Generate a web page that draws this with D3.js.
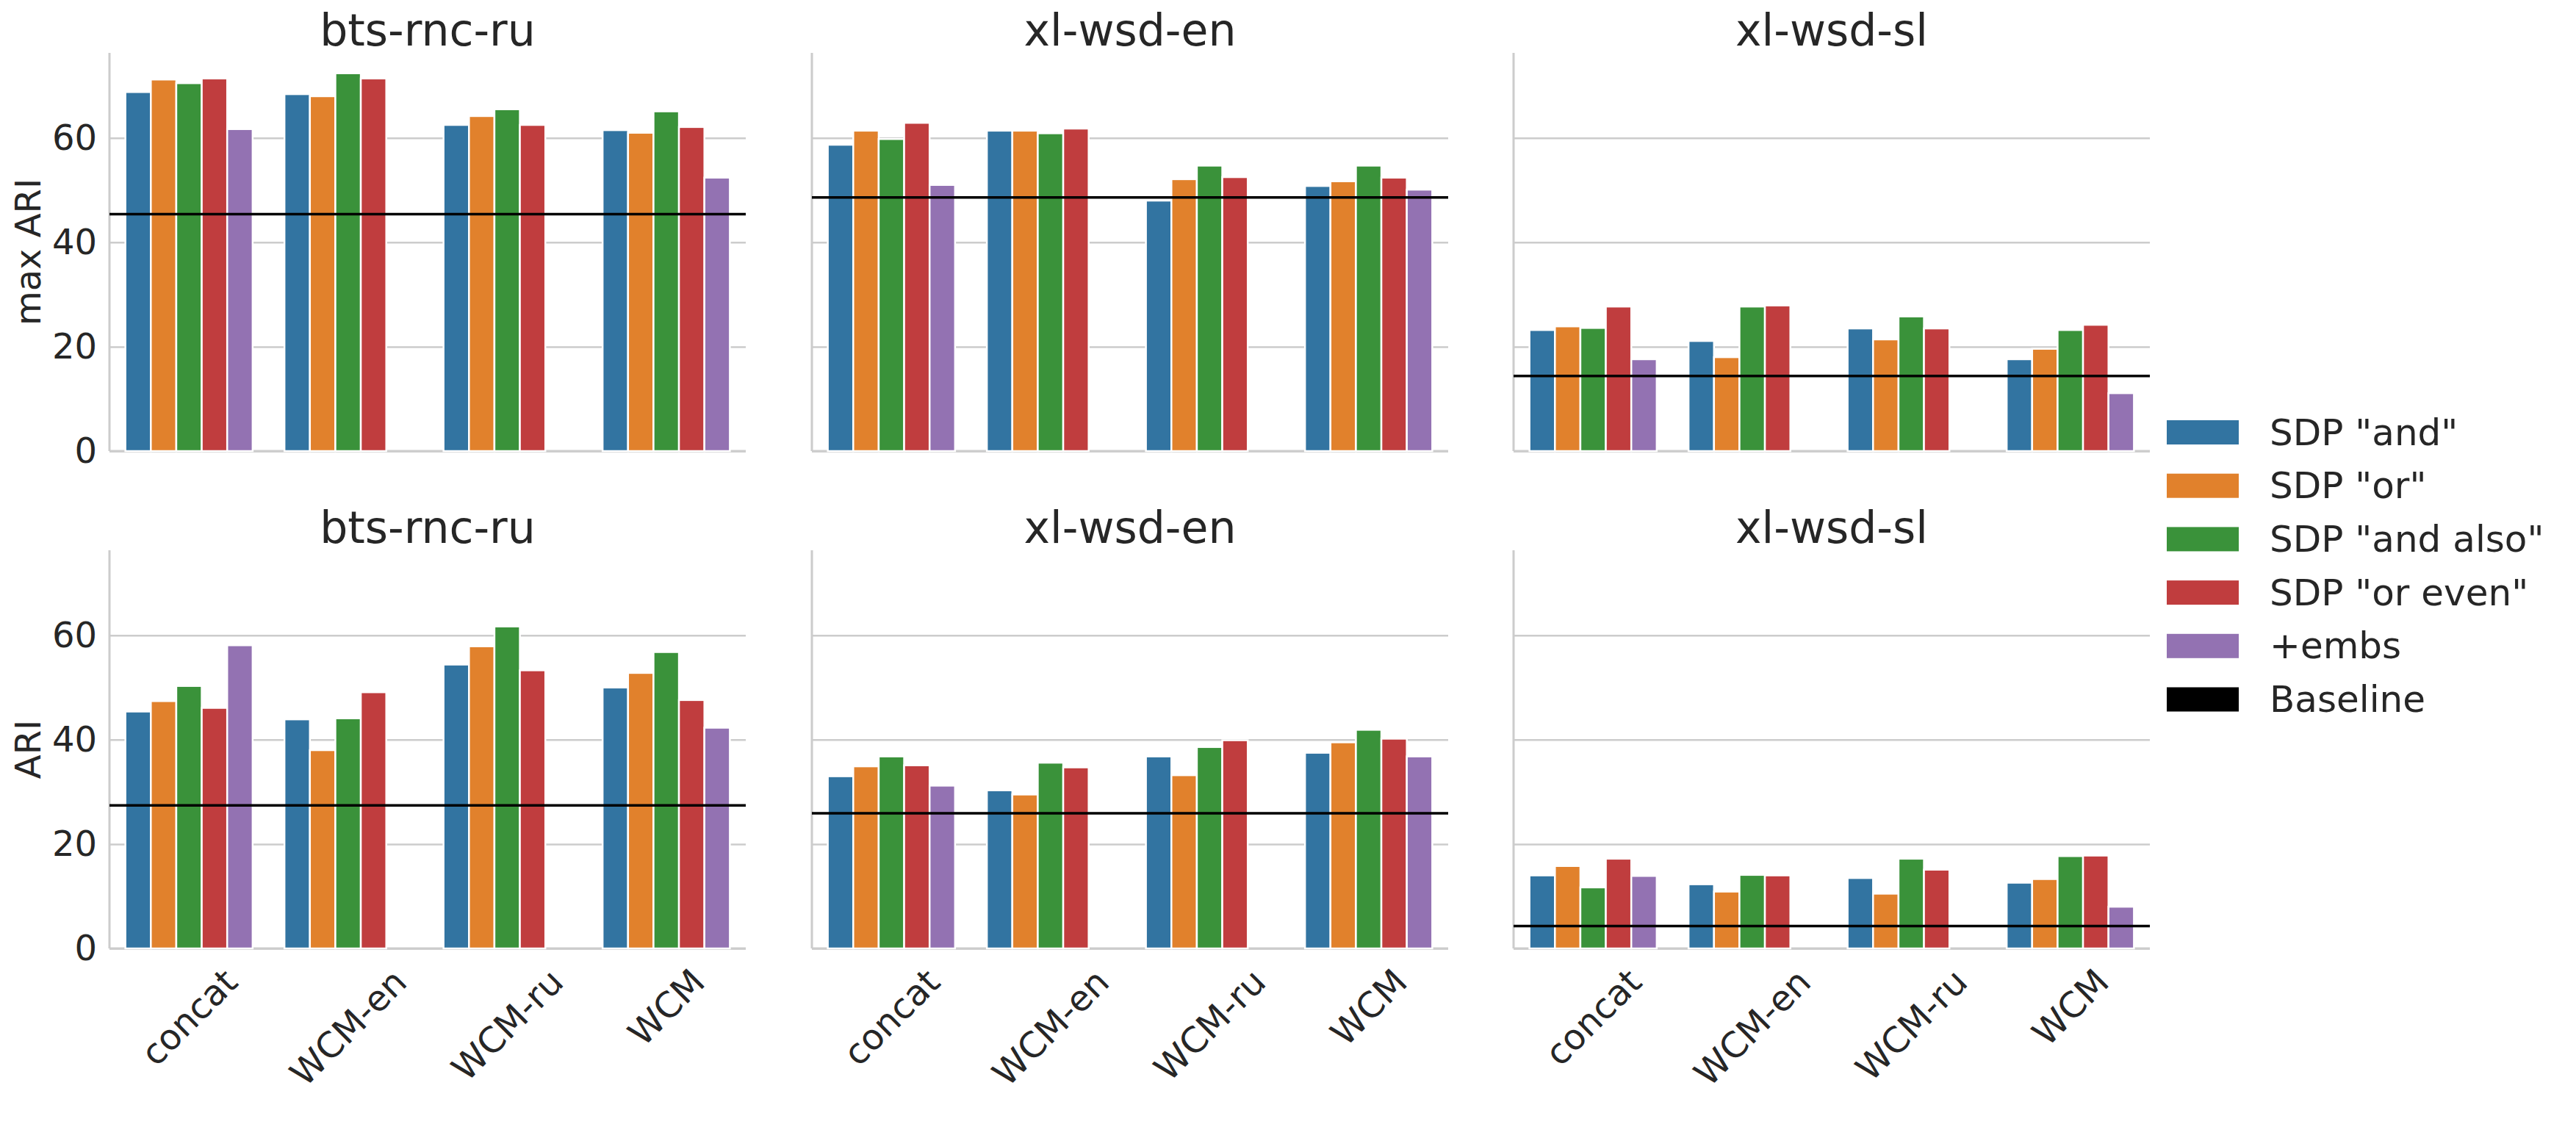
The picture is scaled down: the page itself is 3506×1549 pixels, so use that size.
<!DOCTYPE html>
<html>
<head>
<meta charset="utf-8">
<script src="https://cdn.jsdelivr.net/npm/d3@7"></script>
<style>
  body { margin: 0; background: #fff; }
  text { font-family: "DejaVu Sans", sans-serif; fill: #262626; }
</style>
</head>
<body>
<svg id="chart" width="3506" height="1549"></svg>
<script>
// data
const datasets = ["bts-rnc-ru", "xl-wsd-en", "xl-wsd-sl"]
const categories = ["concat", "WCM-en", "WCM-ru", "WCM"]
const series = ['SDP "and"', 'SDP "or"', 'SDP "and also"', 'SDP "or even"', '+embs']
const colors = ["#3274a1", "#e1812c", "#3a923a", "#c03d3e", "#9372b2"]
const yTicks = [0, 20, 40, 60]
const rowLabels = ["max ARI", "ARI"]

// values[category][series], null = not there
const maxAriBts = [[68.8, 71.2, 70.5, 71.4, 61.7], [68.4, 68.0, 72.4, 71.4, null], [62.5, 64.2, 65.5, 62.5, null], [61.5, 61.0, 65.1, 62.1, 52.4]]
const maxAriEn  = [[58.7, 61.4, 59.8, 62.9, 51.0], [61.4, 61.4, 60.9, 61.8, null], [48.0, 52.1, 54.7, 52.5, null], [50.8, 51.7, 54.7, 52.4, 50.1]]
const maxAriSl  = [[23.2, 23.9, 23.6, 27.7, 17.6], [21.1, 18.0, 27.7, 27.9, null], [23.5, 21.4, 25.8, 23.5, null], [17.6, 19.6, 23.2, 24.2, 11.1]]
const ariBts    = [[45.4, 47.4, 50.3, 46.1, 58.1], [43.9, 38.0, 44.1, 49.1, null], [54.4, 57.9, 61.7, 53.3, null], [50.0, 52.8, 56.8, 47.6, 42.3]]
const ariEn     = [[33.0, 34.9, 36.8, 35.1, 31.2], [30.3, 29.5, 35.6, 34.7, null], [36.8, 33.2, 38.6, 39.9, null], [37.5, 39.5, 41.9, 40.2, 36.8]]
const ariSl     = [[14.0, 15.8, 11.7, 17.2, 13.9], [12.3, 10.9, 14.1, 14.0, null], [13.5, 10.5, 17.2, 15.1, null], [12.6, 13.3, 17.7, 17.8, 8.0]]
const maxAriBaseline = [45.4, 48.6, 14.4]
const ariBaseline = [27.4, 25.9, 4.3]

const rows = [
  { label: rowLabels[0], values: [maxAriBts, maxAriEn, maxAriSl], baseline: maxAriBaseline },
  { label: rowLabels[1], values: [ariBts, ariEn, ariSl], baseline: ariBaseline }
]

const svg = d3.select("#chart")

// panel geometry
const colX = [149, 1105, 2060]
const panelW = 866
const rowTop = [72, 749]
const panelH = 542
const baseFont = 48
const legendFont = 50
const titleFont = 60

const yScale = d3.scaleLinear().domain([0, 76.3]).range([panelH, 0])
const xScale = d3.scaleBand().domain(categories).range([0, panelW]).padding(0)
const hueScale = d3.scaleBand().domain(series)
  .range([xScale.bandwidth() * 0.1, xScale.bandwidth() * 0.9]).padding(0)

rows.forEach((row, r) => {
  datasets.forEach((name, c) => {
    const g = svg.append("g").attr("transform", `translate(${colX[c]},${rowTop[r]})`)

    // grid
    const grid = g.append("g").call(d3.axisLeft(yScale).tickValues(yTicks).tickSize(-panelW).tickFormat(""))
    grid.select(".domain").remove()
    grid.selectAll(".tick line").attr("stroke", "#cccccc").attr("stroke-width", 2.5)

    // spines
    g.append("line").attr("x1", 0).attr("x2", 0).attr("y1", 0).attr("y2", panelH)
      .attr("stroke", "#cccccc").attr("stroke-width", 3)
    g.append("line").attr("x1", 0).attr("x2", panelW).attr("y1", panelH).attr("y2", panelH)
      .attr("stroke", "#cccccc").attr("stroke-width", 3)

    // bars
    const flat = []
    row.values[c].forEach((vals, i) => vals.forEach((v, j) => {
      if (v !== null) flat.push({ cat: categories[i], s: series[j], j: j, v: v })
    }))
    g.selectAll("rect.bar").data(flat).enter().append("rect")
      .attr("class", "bar")
      .attr("x", d => xScale(d.cat) + hueScale(d.s))
      .attr("width", hueScale.bandwidth())
      .attr("y", d => yScale(d.v))
      .attr("height", d => yScale(0) - yScale(d.v))
      .attr("fill", d => colors[d.j])
      .attr("stroke", "#ffffff")
      .attr("stroke-width", 2.5)

    // baseline
    g.append("line")
      .attr("x1", 0).attr("x2", panelW)
      .attr("y1", yScale(row.baseline[c])).attr("y2", yScale(row.baseline[c]))
      .attr("stroke", "#000").attr("stroke-width", 3.5)

    // title
    g.append("text")
      .attr("x", panelW / 2).attr("y", -10)
      .attr("text-anchor", "middle")
      .attr("font-size", titleFont)
      .text(name)

    // y ticks only on first column
    if (c === 0) {
      const yAxisG = g.append("g").call(d3.axisLeft(yScale).tickValues(yTicks).tickSize(0).tickPadding(17))
      yAxisG.select(".domain").remove()
      yAxisG.selectAll("text").attr("font-size", baseFont).attr("fill", "#262626")
        .style("font-family", "DejaVu Sans")

      g.append("text")
        .attr("transform", `translate(${55 - colX[c]},${panelH / 2}) rotate(-90)`)
        .attr("text-anchor", "middle")
        .attr("font-size", baseFont)
        .text(row.label)
    }

    // x labels only on bottom row, rotated 45
    if (r === 1) {
      categories.forEach(cat => {
        const cx = xScale(cat) + xScale.bandwidth() / 2
        const t = g.append("text")
          .attr("text-anchor", "middle")
          .attr("dominant-baseline", "central")
          .attr("font-size", baseFont)
          .text(cat)
        const L = t.node().getComputedTextLength()
        const half = (L + baseFont * 0.75) / (2 * Math.SQRT2)
        t.attr("transform", `translate(${cx},${panelH + 24 + half}) rotate(-45)`)
      })
    }
  })
})

// legend
const legend = svg.append("g").attr("transform", "translate(2949,572)")
const legendItems = series.map((s, i) => ({ name: s, color: colors[i] }))
legendItems.push({ name: "Baseline", color: "#000000" })
legendItems.forEach((d, i) => {
  legend.append("rect").attr("x", 0).attr("y", i * 72.7).attr("width", 98).attr("height", 33).attr("fill", d.color)
  legend.append("text").attr("x", 140).attr("y", i * 72.7 + 16.5)
    .attr("dominant-baseline", "central")
    .attr("font-size", legendFont)
    .text(d.name)
})
</script>
</body>
</html>
